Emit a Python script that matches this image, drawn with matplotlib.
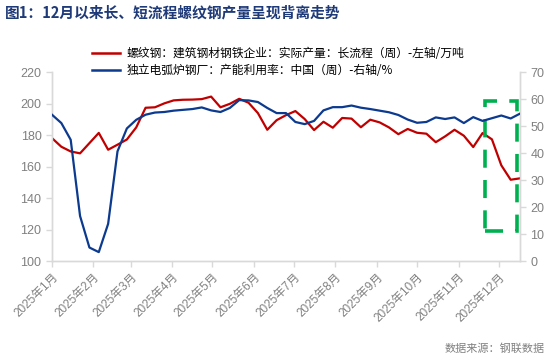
import numpy as np
import pandas as pd
import matplotlib
matplotlib.use("Agg")
import matplotlib.pyplot as plt
import matplotlib.dates as mdates
from matplotlib.patches import Rectangle
from matplotlib.lines import Line2D

plt.rcParams['font.family'] = ['Liberation Sans', 'Noto Sans CJK SC', 'DejaVu Sans']

# weekly data, 2025
dates = pd.date_range("2025-01-02", periods=51, freq="7D")

rebar_long = [178.2, 172.7, 169.7, 168.5, 175.0, 181.5, 170.8, 174.0, 177.3, 185.0,
              197.5, 197.8, 200.3, 202.2, 202.6, 202.7, 203.0, 204.6, 197.8, 200.0,
              203.2, 200.7, 194.1, 183.5, 189.6, 192.8, 195.4, 190.3, 183.3, 188.6,
              184.8, 191.0, 190.6, 185.1, 189.9, 188.2, 185.0, 180.7, 184.0, 181.6,
              181.0, 175.6, 179.3, 183.5, 179.7, 172.5, 181.4, 177.4, 160.9, 151.7,
              152.6]

eaf_util = [54.3, 51.2, 45.0, 16.7, 5.0, 3.3, 13.8, 40.7, 49.2, 52.4,
            54.3, 55.1, 55.3, 55.8, 56.1, 56.4, 57.0, 55.9, 55.3, 56.8,
            59.7, 59.6, 59.0, 56.8, 54.9, 54.9, 51.6, 50.8, 52.0, 55.9,
            57.1, 57.1, 57.7, 56.9, 56.4, 55.8, 55.2, 54.2, 52.5, 51.3,
            51.6, 53.3, 52.7, 53.3, 51.2, 53.4, 52.0, 53.0, 54.0, 52.9,
            54.7]

label_red = "螺纹钢：建筑钢材钢铁企业：实际产量：长流程（周）-左轴/万吨"
label_blue = "独立电弧炉钢厂：产能利用率：中国（周）-右轴/%"
title = "图1：12月以来长、短流程螺纹钢产量呈现背离走势"
source = "数据来源：钢联数据"

# highlight box (dates, left-axis values)
box_x = [pd.Timestamp("2025-11-22"), pd.Timestamp("2025-12-16")]
box_y = [118.8, 201.5]

red = "#C00000"
blue = "#0B3A8F"
grey = "#808080"
spine_c = "#D9D9D9"

fig = plt.figure(figsize=(5.5, 3.62), dpi=100)
ax = fig.add_axes([0.0945, 0.279, 0.851, 0.521])
ax2 = ax.twinx()

ax.plot(dates, rebar_long, color=red, lw=1.6, zorder=3)
ax2.plot(dates, eaf_util, color=blue, lw=1.6, zorder=3)

ax.set_ylim(100, 220)
ax.set_yticks(np.arange(100, 221, 20))
ax2.set_ylim(0, 70)
ax2.set_yticks(np.arange(0, 71, 10))
ax.set_xlim(dates[0], dates[-1])

ticks = pd.date_range("2025-01-02", periods=12, freq=pd.DateOffset(months=1))
ax.set_xticks(ticks)
ax.set_xticklabels([f"{d.year}年{d.month}月" for d in ticks], rotation=45,
                   ha="right", rotation_mode="anchor", fontsize=8.5, color=grey)

for a in (ax, ax2):
    a.spines['top'].set_visible(False)
    for s in ('left', 'right', 'bottom'):
        a.spines[s].set_color(spine_c)
        a.spines[s].set_linewidth(1.0)
    a.tick_params(axis='both', colors=spine_c, labelcolor=grey, labelsize=9,
                  length=4, width=1.0, direction='out')
ax.tick_params(axis='x', labelsize=8.5)

rect = Rectangle((mdates.date2num(box_x[0]), box_y[0]),
                 mdates.date2num(box_x[1]) - mdates.date2num(box_x[0]),
                 box_y[1] - box_y[0], fill=False, edgecolor="#00B050",
                 lw=2.6, linestyle=(0, (5, 3.4)), zorder=5, clip_on=False)
ax.add_patch(rect)

handles = [Line2D([], [], color=red, lw=1.8), Line2D([], [], color=blue, lw=1.8)]
fig.legend(handles, [label_red, label_blue], loc="upper left",
           bbox_to_anchor=(0.148, 0.9), frameon=False,
           handlelength=2.4, handletextpad=0.5, labelspacing=0.35,
           prop={'family': ['Noto Sans CJK SC'], 'size': 8.5})

fig.text(0.009, 0.965, title, fontsize=10.6, fontweight='bold', color="#1F3A78",
         family=['Noto Sans CJK SC'], va='center', ha='left')
fig.text(0.99, 0.038, source, fontsize=8, color=grey,
         family=['Noto Sans CJK SC'], va='center', ha='right')

fig.savefig("out.png", dpi=100)
